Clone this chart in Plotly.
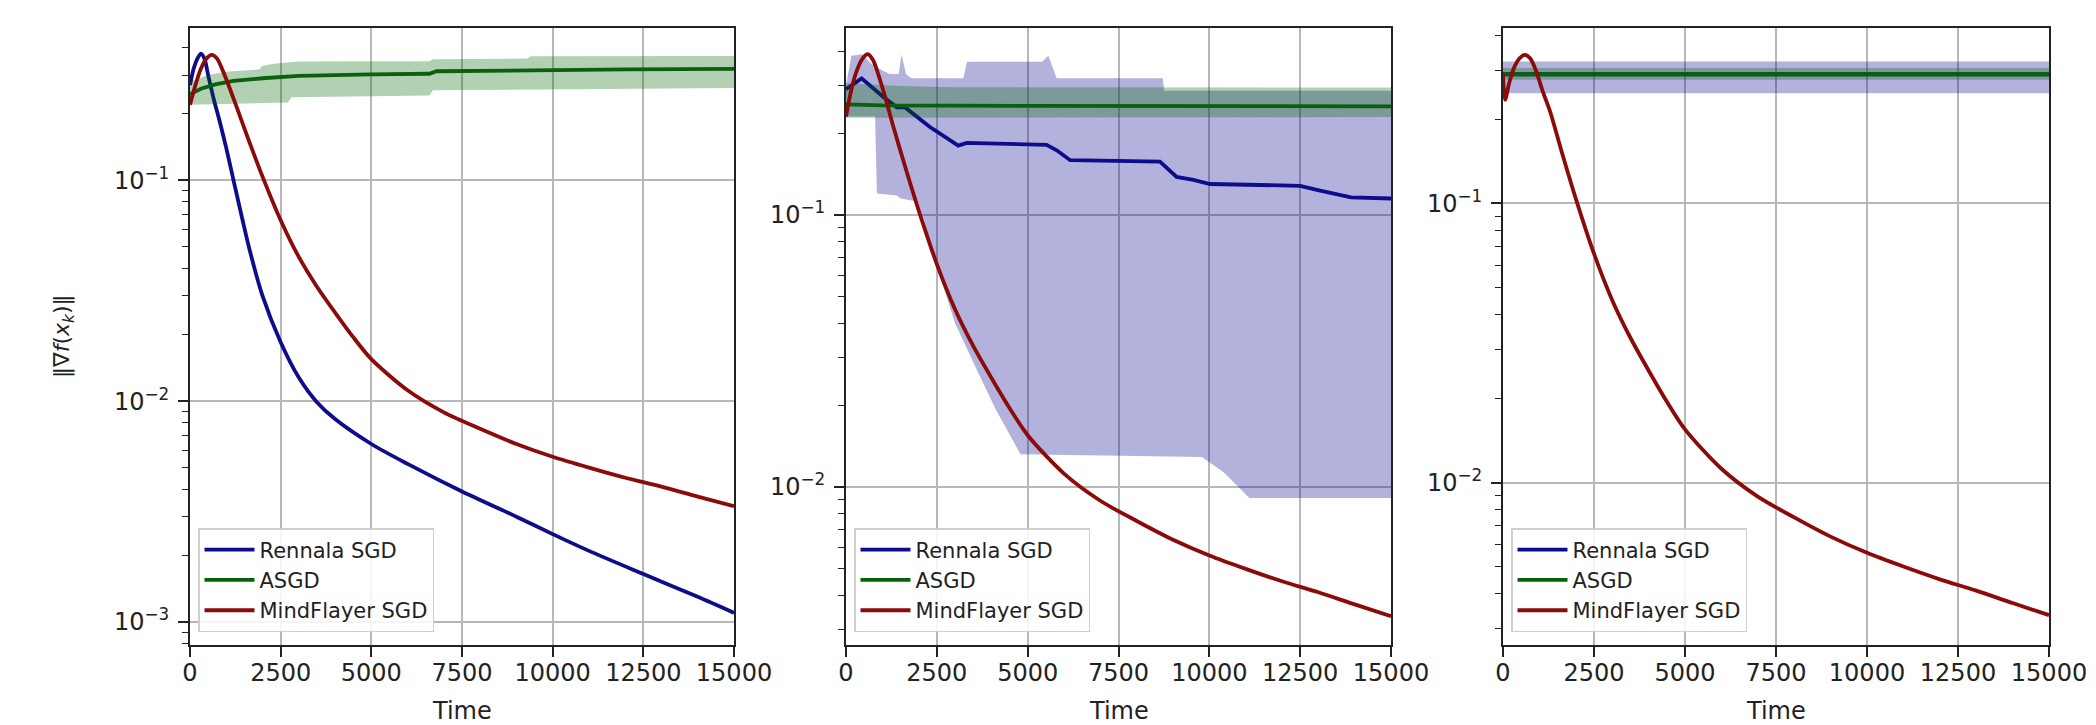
import plotly.graph_objects as go

# ---------------- data ----------------
series_names = ["Rennala SGD", "ASGD", "MindFlayer SGD"]
x_ticks = [0, 2500, 5000, 7500, 10000, 12500, 15000]
x_tick_labels = ["0", "2500", "5000", "7500", "10000", "12500", "15000"]
y_major = [1e-3, 1e-2, 1e-1]
y_major_labels = ["10<sup>−3</sup>", "10<sup>−2</sup>", "10<sup>−1</sup>"]
y_minor = [8e-4, 9e-4, 2e-3, 3e-3, 4e-3, 5e-3, 6e-3, 7e-3, 8e-3, 9e-3,
           2e-2, 3e-2, 4e-2, 5e-2, 6e-2, 7e-2, 8e-2, 9e-2, 0.2, 0.3, 0.4]

# MindFlayer SGD (shared tail, panel specific start)
mf_head_t = [0, 150, 300, 450, 600, 750, 900, 1100]
mf_head_p1 = [0.22, 0.27, 0.32, 0.355, 0.37, 0.355, 0.315, 0.26]
mf_head_p2 = [0.23, 0.29, 0.34, 0.375, 0.39, 0.37, 0.325, 0.265]
mf_head_p3_t = [0, 60, 170, 300, 450, 600, 750, 900, 1100]
mf_head_p3 = [0.29, 0.235, 0.27, 0.305, 0.33, 0.34, 0.33, 0.3, 0.25]
mf_tail_t = [1300, 1600, 2000, 2500, 3000, 3500, 4000, 4500, 5000, 6000, 7000,
             8000, 9000, 10000, 11000, 12000, 13000, 14000, 15000]
mf_tail = [0.212, 0.155, 0.104, 0.066, 0.045, 0.033, 0.0252, 0.0195, 0.0155, 0.0112,
           0.0089, 0.0075, 0.0064, 0.0056, 0.005, 0.0045, 0.0041, 0.0037, 0.00335]

# Panel 1
ren1_t = [0, 100, 200, 300, 400, 500, 650, 800, 1000, 1200, 1450, 1650, 2000, 2500,
          3000, 3500, 4000, 5000, 6000, 7500, 9000, 10000, 11000, 12500, 14000, 15000]
ren1 = [0.27, 0.32, 0.355, 0.375, 0.355, 0.30, 0.235, 0.19, 0.14, 0.1, 0.066, 0.048,
        0.03, 0.0185, 0.0128, 0.0099, 0.0083, 0.0064, 0.0052, 0.0039, 0.003, 0.0025,
        0.0021, 0.00165, 0.0013, 0.0011]
asgd1_t = [0, 300, 700, 1200, 2000, 3000, 5000, 6600, 6800, 9000, 12000, 15000]
asgd1 = [0.245, 0.26, 0.272, 0.282, 0.29, 0.297, 0.302, 0.304, 0.312, 0.315, 0.318, 0.32]
asgd1_up_t = [0, 500, 1000, 1900, 2000, 2300, 3000, 6600, 6700, 9300, 9400, 15000]
asgd1_up = [0.28, 0.30, 0.31, 0.318, 0.33, 0.337, 0.345, 0.346, 0.354, 0.356, 0.365, 0.366]
asgd1_lo_t = [0, 2700, 2800, 6600, 6700, 15000]
asgd1_lo = [0.22, 0.225, 0.238, 0.242, 0.256, 0.262]

# Panel 2
ren2_t = [0, 430, 1020, 1400, 1620, 2300, 3090, 3320, 5520, 5800, 6170, 8640, 9100,
          9560, 10020, 12500, 13050, 13900, 15000]
ren2 = [0.29, 0.318, 0.272, 0.249, 0.249, 0.211, 0.18, 0.184, 0.181, 0.173, 0.159,
        0.157, 0.138, 0.1346, 0.13, 0.128, 0.123, 0.116, 0.115]
ren2_up_t = [0, 150, 450, 700, 1000, 1200, 1450, 1530, 1650, 1800, 3230, 3330, 5400,
             5570, 5800, 8720, 8760, 15000]
ren2_up = [0.30, 0.385, 0.39, 0.36, 0.34, 0.33, 0.33, 0.39, 0.33, 0.318, 0.318, 0.366,
           0.366, 0.385, 0.318, 0.318, 0.286, 0.286]
ren2_lo_t = [0, 800, 850, 1400, 1500, 1950, 2150, 2300, 2550, 3000, 3600, 4100, 4450,
             4800, 9800, 10400, 11100, 15000]
ren2_lo = [0.23, 0.23, 0.12, 0.118, 0.115, 0.112, 0.096, 0.075, 0.062, 0.04, 0.027,
           0.0195, 0.016, 0.0132, 0.0129, 0.0113, 0.0091, 0.0091]
asgd2_t = [0, 1000, 5000, 15000]
asgd2 = [0.255, 0.253, 0.252, 0.251]
asgd2_up_t = [0, 1500, 3000, 15000]
asgd2_up = [0.305, 0.298, 0.295, 0.294]
asgd2_lo_t = [0, 15000]
asgd2_lo = [0.228, 0.229]

# Panel 3
ren3_t = [0, 15000]
ren3 = [0.29, 0.29]
ren3_up = [0.322, 0.322]
ren3_lo = [0.248, 0.248]
asgd3_t = [0, 15000]
asgd3 = [0.29, 0.29]
asgd3_up = [0.305, 0.305]
asgd3_lo = [0.277, 0.277]

# ---------------- styling ----------------
W, H = 2096, 725
OFF = 8  # page body margin: screen position = figure position + OFF
C_BLUE, C_GREEN, C_RED = "#0c0c8c", "#0b600b", "#8b0a0a"
F_BLUE, F_GREEN = "rgba(0,0,139,0.30)", "rgba(0,100,0,0.30)"
FONT = "DejaVu Sans"
panels_px = [(190, 734), (846, 1391), (1503, 2049)]   # screen pixels
top_px, bot_px = 28, 645
y_ranges = [(-3.104, -0.31), (-2.581, -0.3125), (-2.582, -0.372)]
LW = 3.8


def px_x(v):
    return (v - OFF) / W


def px_y(v):
    return 1 - (v - OFF) / H


fig = go.Figure()


def ax(i):
    return ("x" if i == 1 else f"x{i}"), ("y" if i == 1 else f"y{i}")


def band(i, t_up, up, t_lo, lo, color):
    xs = list(t_up) + list(reversed(t_lo))
    ys = list(up) + list(reversed(lo))
    xa, ya = ax(i)
    fig.add_trace(go.Scatter(x=xs, y=ys, fill="toself", fillcolor=color, mode="lines",
                             line=dict(width=0), hoverinfo="skip", showlegend=False,
                             xaxis=xa, yaxis=ya))


def line(i, t, v, color, name, smooth=False):
    xa, ya = ax(i)
    leg = "legend" if i == 1 else f"legend{i}"
    ln = dict(color=color, width=LW)
    if smooth:
        ln.update(shape="spline", smoothing=0.8)
    fig.add_trace(go.Scatter(x=t, y=v, mode="lines", name=name, line=ln,
                             legend=leg, xaxis=xa, yaxis=ya))


# panel 1
line(1, ren1_t, ren1, C_BLUE, series_names[0], smooth=True)
band(1, asgd1_up_t, asgd1_up, asgd1_lo_t, asgd1_lo, F_GREEN)
line(1, asgd1_t, asgd1, C_GREEN, series_names[1])
line(1, mf_head_t + mf_tail_t, mf_head_p1 + mf_tail, C_RED, series_names[2], smooth=True)

# panel 2
band(2, ren2_up_t, ren2_up, ren2_lo_t, ren2_lo, F_BLUE)
line(2, ren2_t, ren2, C_BLUE, series_names[0])
band(2, asgd2_up_t, asgd2_up, asgd2_lo_t, asgd2_lo, F_GREEN)
line(2, asgd2_t, asgd2, C_GREEN, series_names[1])
line(2, mf_head_t + mf_tail_t, mf_head_p2 + mf_tail, C_RED, series_names[2], smooth=True)

# panel 3
band(3, ren3_t, ren3_up, ren3_t, ren3_lo, F_BLUE)
line(3, ren3_t, ren3, C_BLUE, series_names[0])
band(3, asgd3_t, asgd3_up, asgd3_t, asgd3_lo, F_GREEN)
line(3, asgd3_t, asgd3, C_GREEN, series_names[1])
line(3, mf_head_p3_t + mf_tail_t, mf_head_p3 + mf_tail, C_RED, series_names[2], smooth=True)

layout = dict(
    template="none",
    width=W, height=H, autosize=False,
    margin=dict(l=0, r=0, t=0, b=0, pad=0),
    paper_bgcolor="white", plot_bgcolor="white",
    font=dict(family=FONT, color="#222222"),
    annotations=[],
)

for k, ((x0, x1), (ylo, yhi)) in enumerate(zip(panels_px, y_ranges), start=1):
    sfx = "" if k == 1 else str(k)
    layout[f"xaxis{sfx}"] = dict(
        domain=[px_x(x0), px_x(x1)], anchor=f"y{sfx}", range=[0, 15000],
        automargin=False, tickvals=x_ticks, ticktext=x_tick_labels, ticks="outside",
        ticklen=10, tickwidth=1.6, tickcolor="#222", showline=True, linecolor="#222",
        linewidth=1.8, mirror=True, showgrid=True, gridcolor="#b8b8b8", gridwidth=1.5,
        zeroline=False, tickfont=dict(size=24, family=FONT, color="#222"),
        ticklabelstandoff=-5,
    )
    layout[f"yaxis{sfx}"] = dict(
        domain=[px_y(bot_px), px_y(top_px)], anchor=f"x{sfx}", type="log",
        range=[ylo, yhi], automargin=False, tickvals=y_major, ticktext=y_major_labels,
        ticks="outside", ticklen=10, tickwidth=1.6, tickcolor="#222", showline=True,
        linecolor="#222", linewidth=1.8, mirror=True, showgrid=True,
        gridcolor="#b8b8b8", gridwidth=1.5, zeroline=False,
        tickfont=dict(size=24, family=FONT, color="#222"), ticklabelstandoff=4,
        minor=dict(tickvals=y_minor, ticks="outside", ticklen=6, tickwidth=1.3,
                   tickcolor="#222", showgrid=False),
    )
    leg_name = "legend" if k == 1 else f"legend{k}"
    layout[leg_name] = dict(
        x=px_x(x0 + 8), y=px_y(632), xanchor="left", yanchor="bottom",
        bgcolor="rgba(255,255,255,0.85)", bordercolor="#cfcfcf", borderwidth=1.5,
        font=dict(size=21, family=FONT, color="#222"), itemwidth=50, tracegroupgap=0,
        entrywidth=215, entrywidthmode="pixels",
    )
    layout["annotations"].append(dict(
        text="Time", x=px_x((x0 + x1) / 2), y=px_y(711), xref="paper", yref="paper",
        showarrow=False, font=dict(size=24, family=FONT, color="#222"),
        xanchor="center", yanchor="middle"))

layout["annotations"].append(dict(
    text="‖∇<i>f</i>(<i>x</i><sub><i>k</i></sub>)‖", x=px_x(64), y=px_y(336),
    xref="paper", yref="paper", showarrow=False, textangle=-90,
    font=dict(size=22, family=FONT, color="#222"), xanchor="center", yanchor="middle"))

fig.update_layout(**layout)
fig.write_html("out.html")
